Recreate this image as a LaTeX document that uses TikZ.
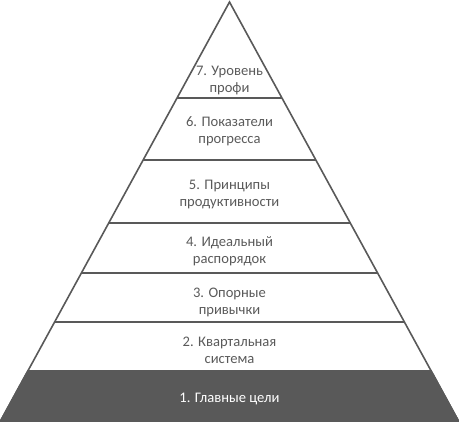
\documentclass[tikz,border=0pt]{standalone}
\usepackage{fontspec}
\setmainfont{Carlito}
\usetikzlibrary{calc}
\definecolor{edgegray}{HTML}{595959}
\definecolor{txtgray}{HTML}{5A5A5A}
\tikzset{
  edge/.style={draw=edgegray, line width=1.6bp, line join=miter},
  lbl/.style={align=center, text=txtgray, font=\fontsize{14.6bp}{17bp}\selectfont, inner sep=0pt},
  lblw/.style={lbl, text=white}
}
\begin{document}
\begin{tikzpicture}[x=1bp,y=-1bp]
\useasboundingbox (0,0) rectangle (459,422);
\coordinate (A) at (229.5,2);
\coordinate (L) at (0.5,421);
\coordinate (R) at (458.5,421);
% boundary points
\foreach \n/\t in {b6/0.2291, b5/0.3771, b4/0.5274, b3/0.6468, b2/0.7637, b1/0.8807}{
  \coordinate (\n l) at ($(A)!\t!(L)$);
  \coordinate (\n r) at ($(A)!\t!(R)$);
}
% bottom dark layer
\fill[edgegray] (b1l) -- (b1r) -- (R) -- (L) -- cycle;
\draw[edge] (b1l) -- (b1r) -- (R) -- (L) -- cycle;
% outline
\draw[edge] (L) -- (A) -- (R);
\foreach \n in {b6,b5,b4,b3,b2}{
  \draw[edge] (\n l) -- (\n r);
}
% labels
\node[lbl] (t7) at (229.5,81) {7. Уровень\\профи};
\node[lbl] (t6) at (229.5,131.5) {6. Показатели\\прогресса};
\node[lbl] (t5) at (229.5,194.5) {5. Принципы\\продуктивности};
\node[lbl] (t4) at (229.5,251.5) {4. Идеальный\\распорядок};
\node[lbl] (t3) at (229.5,302.5) {3. Опорные\\привычки};
\node[lbl] (t2) at (229.5,350) {2. Квартальная\\система};
\node[lblw] (t1) at (229.5,399) {1. Главные цели};
\end{tikzpicture}
\end{document}
